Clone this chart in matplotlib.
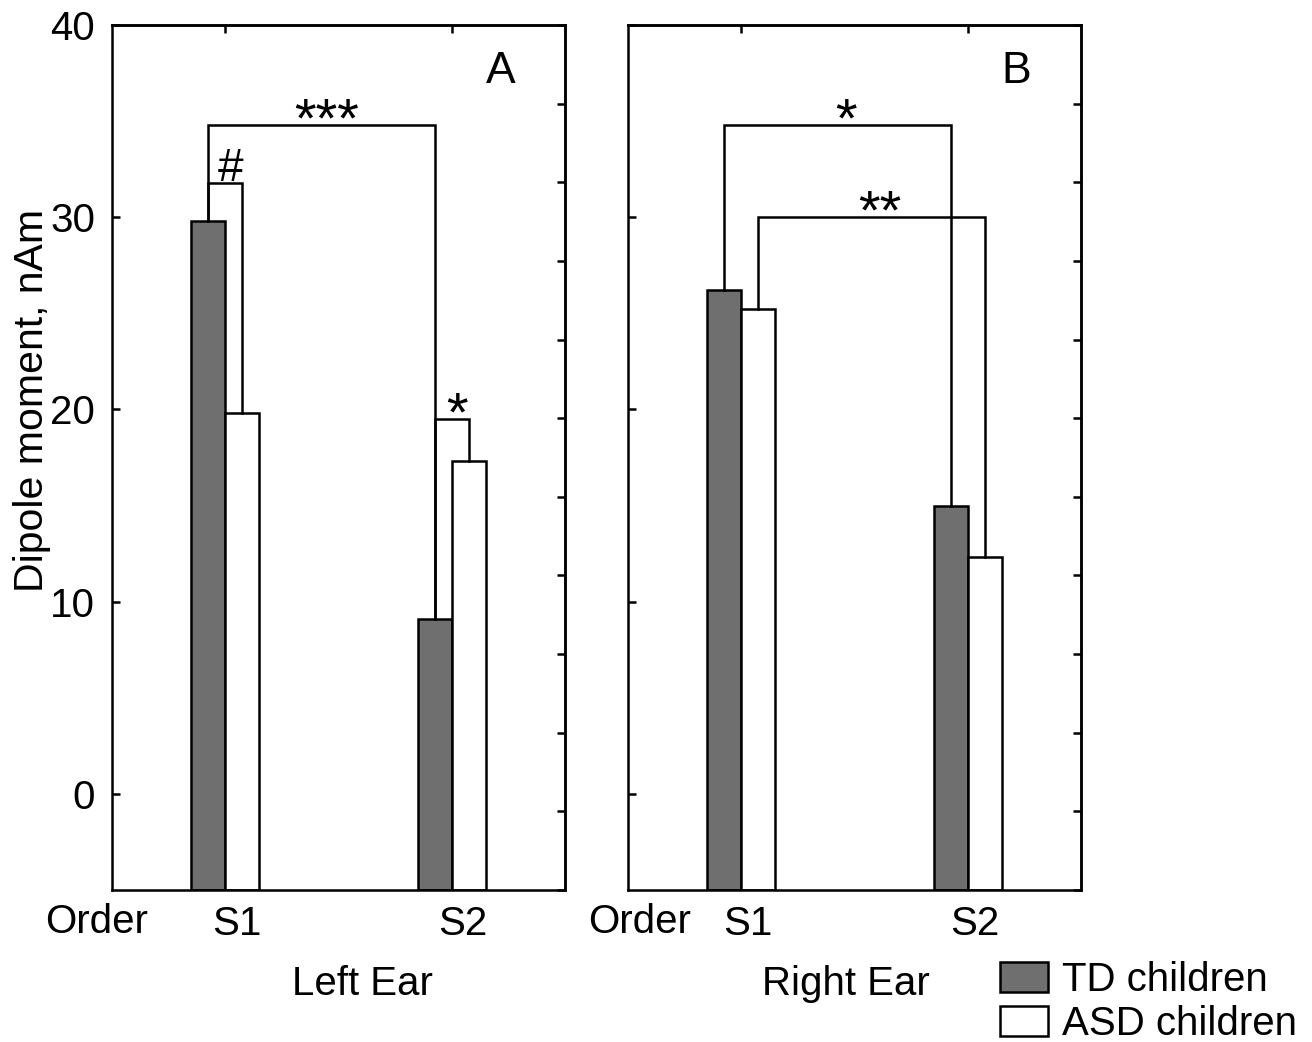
import numpy as np
import matplotlib
matplotlib.use("Agg")
import matplotlib.pyplot as plt

plt.rcParams['font.family'] = ['Liberation Sans', 'DejaVu Sans']
plt.rcParams['font.size'] = 29

# %% data
orders = ["S1", "S2"]
groups = ["TD children", "ASD children"]
panels = ["A", "B"]
ears = ["Left Ear", "Right Ear"]

td_left = [29.8, 9.1]
asd_left = [19.8, 17.3]
td_right = [26.2, 15.0]
asd_right = [25.2, 12.3]

# brackets: (group of first bar, order of first bar, group of second bar, order of second bar, level, mark)
brackets_left = [(0, 0, 0, 1, 34.8, "***"),
                 (0, 0, 1, 0, 31.8, "#"),
                 (0, 1, 1, 1, 19.5, "*")]
brackets_right = [(0, 0, 0, 1, 34.8, "*"),
                  (1, 0, 1, 1, 30.0, "**")]

# %% figure
colors = ["#6f6f6f", "white"]
w = 0.15
lw = 1.8
ymin, ymax = -5, 40
fs = 29

fig = plt.figure(figsize=(13.12, 10.42), dpi=100)
ax_l = fig.add_axes([112/1312, 152/1042, 453/1312, 865/1042])
ax_r = fig.add_axes([628/1312, 152/1042, 453/1312, 865/1042])

x = np.arange(1, len(orders) + 1)
series = [(td_left, asd_left), (td_right, asd_right)]
brackets = [brackets_left, brackets_right]
label_x = [0.552, 0.481]
order_x = [-0.035, 0.026]
tick_shift = [8, 5]
mark_shift = [4, 6]

bars_for_legend = []
for i, ax in enumerate([ax_l, ax_r]):
    vals = series[i]
    offs = [-w/2, w/2]
    for g in range(2):
        b = ax.bar(x + offs[g], np.array(vals[g]) - ymin, width=w, bottom=ymin,
                   color=colors[g], edgecolor="black", linewidth=lw, zorder=2)
        if i == 0:
            bars_for_legend.append(b)
    for (g1, o1, g2, o2, level, mark) in brackets[i]:
        x1 = x[o1] + offs[g1]
        x2 = x[o2] + offs[g2]
        y1 = vals[g1][o1]
        y2 = vals[g2][o2]
        ax.plot([x1, x1, x2, x2], [y1, level, level, y2], color="black",
                lw=lw, solid_joinstyle="miter", zorder=3)
        if "*" in mark:
            ax.annotate(mark, xy=((x1 + x2) / 2, level), xytext=(mark_shift[i], -8),
                        textcoords="offset points", ha="center", va="baseline",
                        fontsize=40)
        else:
            ax.annotate(mark, xy=((x1 + x2) / 2, level), xytext=(4, 1),
                        textcoords="offset points", ha="center", va="baseline",
                        fontsize=33)

    ax.set_xlim(0.5, 2.5)
    ax.set_ylim(ymin, ymax)
    ax.set_yticks([0, 10, 20, 30, 40])
    if i == 1:
        ax.set_yticklabels([])
    ax.tick_params(axis="y", direction="in", length=6, width=lw, pad=12,
                   labelsize=fs)
    ax.set_xticks(x)
    ax.set_xticklabels([])
    ax.tick_params(axis="x", length=0)
    for k, name in enumerate(orders):
        ax.annotate(name, xy=(x[k], 0), xycoords=("data", "axes fraction"),
                    xytext=(tick_shift[i], -11), textcoords="offset points",
                    ha="center", va="top", fontsize=fs)
    ax.text(order_x[i], -0.015, "Order", transform=ax.transAxes,
            ha="center", va="top", fontsize=fs)
    ax.text(label_x[i], -0.109, ears[i], transform=ax.transAxes,
            ha="center", va="center", fontsize=fs)
    ax.text(0.857, 0.946, panels[i], transform=ax.transAxes,
            ha="center", va="center", fontsize=32)

    for sp in ax.spines.values():
        sp.set_linewidth(lw)

    top = ax.secondary_xaxis("top")
    top.set_xticks(x)
    top.set_xticklabels([])
    top.tick_params(direction="in", length=6, width=lw)
    top.spines["top"].set_linewidth(lw)

    right = ax.secondary_yaxis("right")
    right.set_yticks(np.linspace(ymin, ymax, 12))
    right.set_yticklabels([])
    right.tick_params(direction="in", length=6, width=lw)
    right.spines["right"].set_linewidth(lw)

ax_l.text(-0.177, 0.566, "Dipole moment, nAm", transform=ax_l.transAxes,
          rotation=90, ha="center", va="center", fontsize=29.5)

fig.legend(bars_for_legend, groups, loc="upper left",
           bbox_to_anchor=(1000/1312, 1 - 961/1042), frameon=False,
           fontsize=fs, handlelength=1.2, handleheight=0.75,
           handletextpad=0.35, labelspacing=0.15, borderpad=0, borderaxespad=0)

plt.savefig("out.png", dpi=100)
